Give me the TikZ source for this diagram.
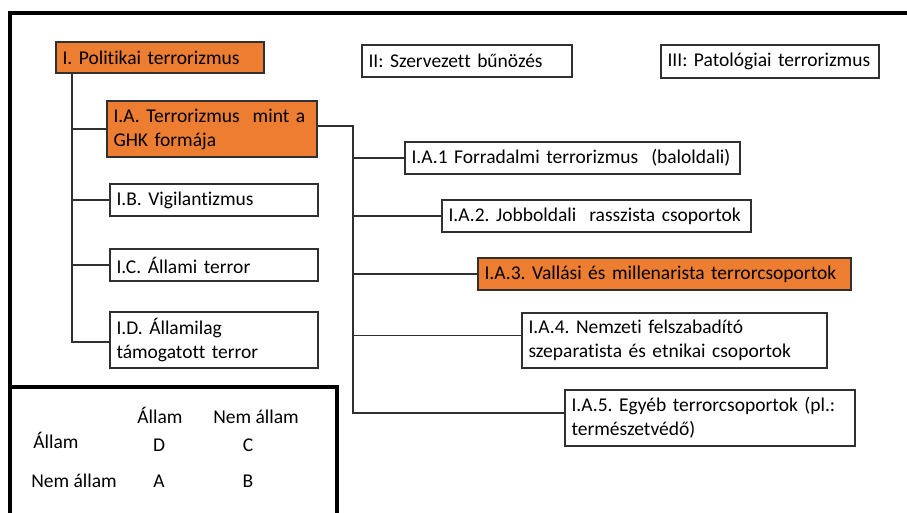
\documentclass[tikz,border=0pt]{standalone}
\usepackage{fontspec}
\setmainfont{Carlito}[Ligatures=NoCommon]
\definecolor{orng}{HTML}{ED7D31}
\definecolor{edge}{HTML}{303030}
\begin{document}
\frenchspacing
\begin{tikzpicture}[x=1pt,y=-1pt,
  box/.style={draw=edge, line width=1.2pt, rectangle, inner xsep=6.5pt, inner ysep=0pt, align=left, font=\fontsize{19.5}{24}\selectfont},
  hot/.style={box, fill=orng},
  conn/.style={draw=edge, line width=1.3pt},
  frame/.style={draw=black, line width=3.2pt},
  leg/.style={font=\fontsize{19.5}{24}\selectfont, inner sep=0pt, anchor=base}]
\useasboundingbox (0,0) rectangle (907,513);
% frame
\draw[frame] (10,513) -- (10,13) -- (907,13);
% top row
\node[hot, text width=195pt, minimum height=31pt] (I) at (160,57.5) {I. Politikai terrorizmus};
\node[box, text width=197pt, minimum height=32pt] (II) at (467,61) {II: Szervezett bűnözés};
\node[box, text width=205pt, minimum height=33pt] (III) at (770,61.5) {III: Patológiai terrorizmus};
% level I.x
\node[hot, text width=197pt, minimum height=56pt] (IA) at (212,129) {I.A. Terrorizmus\ \ mint a\\GHK formája};
\node[box, text width=195pt, minimum height=32pt] (IB) at (214,200) {I.B. Vigilantizmus};
\node[box, text width=195pt, minimum height=32pt] (IC) at (214,265) {I.C. Állami terror};
\node[box, text width=195pt, minimum height=56pt] (ID) at (214,340) {I.D. Államilag\\támogatott terror};
% level I.A.x
\node[box, text width=322pt, minimum height=32pt] (IA1) at (572.5,158) {I.A.1 Forradalmi terrorizmus\ \ (baloldali)};
\node[box, text width=296pt, minimum height=32pt] (IA2) at (596.5,216) {I.A.2. Jobboldali\ \ rasszista csoportok};
\node[hot, text width=360pt, minimum height=32pt] (IA3) at (664.5,274) {I.A.3. Vallási és millenarista terrorcsoportok};
\node[box, text width=292pt, minimum height=55pt] (IA4) at (674.5,340.5) {I.A.4. Nemzeti felszabadító\\szeparatista és etnikai csoportok};
\node[box, text width=277pt, minimum height=56pt] (IA5) at (710,418) {I.A.5. Egyéb terrorcsoportok (pl.:\\természetvédő)};
% connectors
\coordinate (tx) at (72,0);
\coordinate (sx) at (353,0);
\coordinate (pD) at ([yshift=-2pt]ID.west);
\coordinate (pA) at ([yshift=3pt]IA.east);
\coordinate (p4) at ([yshift=5pt]IA4.west);
\coordinate (p5) at ([yshift=5pt]IA5.west);
\draw[conn] (tx |- I.south) |- (pD);
\draw[conn] (tx |- IA.west) -- (IA.west);
\draw[conn] (tx |- IB.west) -- (IB.west);
\draw[conn] (tx |- IC.west) -- (IC.west);
\draw[conn] (pA) -| (sx |- p5) -- (p5);
\draw[conn] (sx |- IA1.west) -- (IA1.west);
\draw[conn] (sx |- IA2.west) -- (IA2.west);
\draw[conn] (sx |- IA3.west) -- (IA3.west);
\draw[conn] (sx |- p4) -- (p4);
% legend
\draw[frame] (10,387) -- (337,387) -- (337,513);
\node[leg] (hA) at (160,423) {Állam};
\node[leg] (hN) at (256,423) {Nem állam};
\node[leg] (rA) at (56,448) {Állam};
\node[leg] (rN) at (74,487) {Nem állam};
\node[leg] (D) at (159,451) {D};
\node[leg] (C) at (248,451) {C};
\node[leg] (A) at (159,487) {A};
\node[leg] (B) at (248,487) {B};
\end{tikzpicture}
\end{document}
